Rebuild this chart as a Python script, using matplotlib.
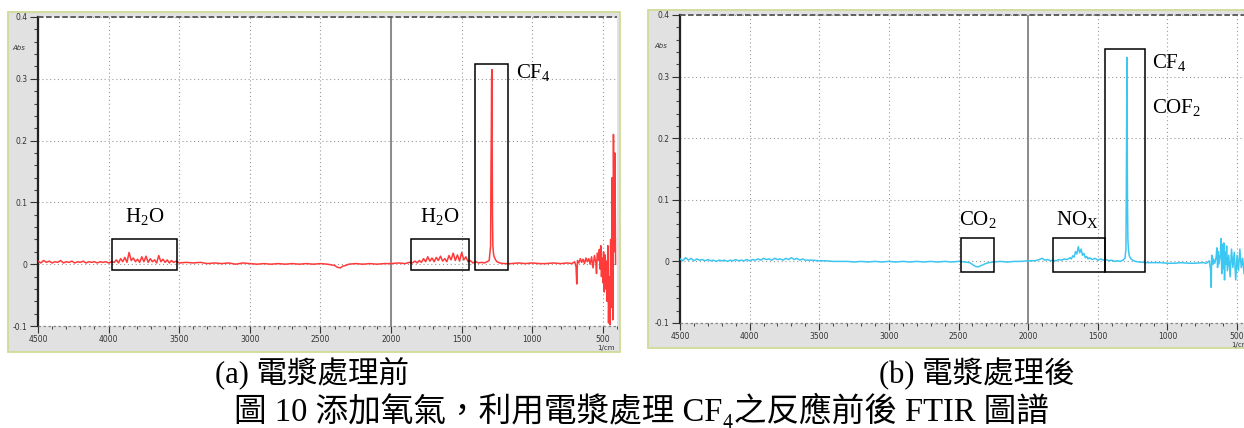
import matplotlib
matplotlib.use("Agg")
import matplotlib.pyplot as plt
from matplotlib.patches import Rectangle
from matplotlib.ticker import MultipleLocator

plt.rcParams['mathtext.fontset'] = 'custom'
plt.rcParams['mathtext.rm'] = 'Liberation Serif'
plt.rcParams['mathtext.it'] = 'Liberation Serif:italic'
plt.rcParams['mathtext.default'] = 'regular'

# ---------------- spectrum (a) : before plasma treatment ----------------
wn_a = [4500, 4480, 4460, 4440, 4420, 4400, 4380, 4360, 4340, 4320, 4300, 4280, 4260, 4240,
        4220, 4200, 4180, 4160, 4140, 4120, 4100, 4080, 4060, 4040, 4020, 4000, 3980,
        3960, 3945, 3930, 3915, 3900, 3885, 3870, 3855, 3840, 3825, 3810, 3795, 3780, 3765,
        3750, 3735, 3720, 3705, 3690, 3675, 3660, 3645, 3630, 3615, 3600, 3585, 3570, 3555,
        3540, 3520, 3500, 3450, 3400, 3350, 3300, 3250, 3200, 3150, 3100, 3050, 3000, 2950,
        2900, 2850, 2800, 2750, 2700, 2650, 2600, 2550, 2500, 2450, 2400, 2380, 2360, 2340,
        2320, 2300, 2250, 2200, 2150, 2100, 2050, 2000, 1950, 1900, 1870, 1850, 1830, 1815,
        1800, 1785, 1770, 1755, 1740, 1725, 1710, 1695, 1680, 1665, 1650, 1635, 1620, 1605,
        1590, 1575, 1560, 1545, 1530, 1515, 1500, 1485, 1470, 1455, 1440, 1420, 1400, 1380,
        1360, 1340, 1320, 1305, 1295, 1292, 1290, 1288, 1286, 1284, 1282, 1279, 1275, 1270,
        1260, 1250, 1230, 1200, 1150, 1100, 1050, 1000, 950, 900, 850, 800, 750, 720,
        700, 690, 685, 680, 670, 660, 650, 640, 630, 620, 610, 600, 590, 580, 570, 560,
        550, 545, 540, 530, 525, 520, 515, 510, 505, 500, 495, 490, 485, 480, 475, 470,
        465, 460, 455, 450, 445, 440, 435, 430, 425, 420, 415, 410]
abs_a = [0.005, 0.002, 0.006, 0.003, 0.005, 0.002, 0.004, 0.003, 0.006, 0.002, 0.004, 0.003, 0.005, 0.002,
         0.004, 0.003, 0.005, 0.002, 0.004, 0.003, 0.004, 0.002, 0.004, 0.003, 0.004, 0.002, 0.004,
         0.003, 0.007, 0.002, 0.009, 0.004, 0.011, 0.003, 0.019, 0.006, 0.010, 0.004, 0.008, 0.003, 0.012,
         0.004, 0.013, 0.003, 0.009, 0.004, 0.007, 0.002, 0.014, 0.004, 0.008, 0.003, 0.007, 0.002, 0.006,
         0.003, 0.005, 0.002, 0.003, 0.002, 0.003, 0.001, 0.002, 0.001, 0.002, 0.000, 0.002, 0.001, 0.000,
         0.001, 0.000, 0.001, 0.000, 0.001, 0.000, 0.001, 0.000, 0.001, 0.000, -0.002, -0.005, -0.006, -0.003,
         -0.002, 0.000, 0.001, 0.000, 0.001, 0.000, 0.001, 0.001, 0.002, 0.001, 0.003, 0.002, 0.005, 0.002,
         0.006, 0.003, 0.009, 0.004, 0.012, 0.005, 0.010, 0.004, 0.011, 0.006, 0.013, 0.005, 0.009, 0.004,
         0.014, 0.007, 0.018, 0.006, 0.015, 0.005, 0.019, 0.007, 0.012, 0.004, 0.006, 0.002, 0.004, 0.002,
         0.003, 0.002, 0.004, 0.006, 0.030, 0.160, 0.210, 0.300, 0.315, 0.200, 0.080, 0.030, 0.018, 0.012,
         0.007, 0.004, 0.002, 0.001, 0.001, 0.002, 0.001, 0.002, 0.001, 0.001, 0.002, 0.001, 0.002, 0.001,
         0.004, -0.004, -0.032, 0.006, 0.002, 0.009, 0.003, 0.008, 0.001, 0.010, 0.004, 0.009, 0.000, 0.012, -0.006, 0.014,
         0.003, -0.015, 0.018, 0.006, 0.024, -0.008, 0.030, -0.020, 0.010, -0.030, 0.020, -0.045, 0.015, -0.040, 0.005, -0.060,
         0.030, -0.095, -0.020, -0.098, 0.040, -0.070, 0.140, -0.090, 0.210, 0.020, 0.180, 0.000]

# ---------------- spectrum (b) : after plasma treatment ----------------
wn_b = [4500, 4480, 4460, 4440, 4420, 4400, 4380, 4360, 4340, 4320, 4300, 4280, 4260, 4240,
        4220, 4200, 4180, 4160, 4140, 4120, 4100, 4080, 4060, 4040, 4020, 4000, 3980, 3960,
        3940, 3920, 3900, 3880, 3860, 3840, 3820, 3800, 3780, 3760, 3740, 3720, 3700, 3680,
        3660, 3640, 3620, 3600, 3550, 3500, 3450, 3400, 3350, 3300, 3250, 3200, 3150, 3100,
        3050, 3000, 2950, 2900, 2850, 2800, 2750, 2700, 2650, 2600, 2550, 2500, 2450, 2420,
        2400, 2380, 2360, 2340, 2320, 2300, 2280, 2250, 2200, 2150, 2100, 2050, 2000, 1950,
        1920, 1900, 1880, 1860, 1840, 1820, 1800, 1780, 1760, 1740, 1720, 1700, 1690, 1680,
        1670, 1660, 1650, 1640, 1630, 1620, 1610, 1600, 1590, 1580, 1570, 1560, 1540, 1520,
        1500, 1480, 1460, 1440, 1420, 1400, 1380, 1360, 1340, 1320, 1305, 1298, 1295, 1293,
        1291, 1289, 1287, 1284, 1280, 1275, 1265, 1250, 1230, 1200, 1150, 1100, 1050, 1000,
        950, 900, 850, 800, 750, 720, 700, 695, 690, 686, 682, 675, 670, 660, 650, 645,
        640, 635, 630, 620, 615, 610, 605, 600, 595, 590, 585, 580, 575, 570, 560, 550,
        540, 530, 520, 510, 500, 490, 480, 470, 460, 450, 440, 420, 400]
abs_b = [0.004, 0.001, 0.006, 0.002, 0.005, 0.001, 0.004, 0.002, 0.003, 0.001, 0.003, 0.001, 0.002, 0.000,
         0.002, 0.001, 0.002, 0.000, 0.002, 0.001, 0.003, 0.001, 0.002, 0.001, 0.003, 0.001, 0.003, 0.002,
         0.004, 0.002, 0.005, 0.003, 0.004, 0.002, 0.005, 0.003, 0.004, 0.002, 0.005, 0.003, 0.006, 0.003,
         0.005, 0.002, 0.004, 0.002, 0.002, 0.001, 0.001, 0.000, 0.000, 0.000, -0.001, 0.000, -0.001, 0.000,
         -0.001, 0.000, -0.001, 0.000, -0.001, 0.000, -0.001, 0.000, -0.001, 0.000, -0.001, 0.000, -0.001, -0.002,
         -0.005, -0.008, -0.009, -0.007, -0.005, -0.003, -0.002, -0.001, 0.000, -0.001, 0.000, 0.000, 0.001, 0.001,
         0.003, 0.005, 0.002, 0.003, 0.001, 0.002, 0.001, 0.003, 0.002, 0.004, 0.003, 0.006, 0.004, 0.009,
         0.007, 0.016, 0.012, 0.024, 0.014, 0.020, 0.010, 0.013, 0.006, 0.008, 0.004, 0.006, 0.003, 0.005,
         0.002, 0.004, 0.002, 0.003, 0.001, 0.002, 0.000, 0.001, 0.000, 0.002, 0.005, 0.020, 0.120, 0.220,
         0.331, 0.220, 0.100, 0.035, 0.020, 0.010, 0.005, 0.002, 0.000, -0.001, -0.002, -0.002, -0.002, -0.003,
         -0.003, -0.002, -0.003, -0.003, -0.002, -0.003, 0.001, -0.006, -0.015, -0.042, 0.010, -0.005, 0.004, -0.003, 0.008, 0.022,
         -0.010, 0.016, -0.004, 0.012, 0.037, -0.020, 0.028, -0.012, 0.030, -0.030, 0.015, -0.005, 0.025, -0.015, 0.010, -0.025,
         0.020, -0.010, 0.015, -0.030, 0.010, -0.015, 0.020, -0.010, 0.005, -0.020, 0.010, -0.005, 0.000]

# annotation boxes: (wavenumber from, wavenumber to, abs low, abs high)
boxes_a = [(3976, 3516, -0.010, 0.0405), (1859, 1449, -0.010, 0.0405), (1406, 1173, -0.010, 0.3236)]
labels_a = [("H$_2$O", 3746, 0.077, 'center'), ("H$_2$O", 1654, 0.077, 'center'),
            ("CF$_4$", 1112, 0.311, 'left')]
boxes_b = [(2482, 2245, -0.018, 0.0373), (1821, 1448, -0.018, 0.0373), (1448, 1161, -0.018, 0.344)]
labels_b = [("CO$_2$", 2363, 0.068, 'center'), ("NO$_\\mathrm{X}$", 1650, 0.068, 'center'),
            ("CF$_4$", 1112, 0.323, 'left'), ("COF$_2$", 1112, 0.250, 'left')]

caption_a = "(a) 電漿處理前"
caption_b = "(b) 電漿處理後"
title = "圖 10 添加氧氣，利用電漿處理 CF₄之反應前後 FTIR 圖譜"

W, H = 1244, 428
fig = plt.figure(figsize=(W / 100, H / 100), dpi=100)
fig.patch.set_facecolor('white')


def fx(px):
    return px / W


def fy(py):
    return 1 - py / H


def draw_panel(panel, axrect, wn, ab, color, boxes, labels):
    # gray instrument window behind the plot
    x0, y0, x1, y1 = panel
    fig.add_artist(Rectangle((fx(x0), fy(y1)), fx(x1) - fx(x0), fy(y0) - fy(y1),
                             transform=fig.transFigure, facecolor='#e1e1e1',
                             edgecolor='#cfdc96', lw=1.3, zorder=-5))
    l, t, r, b = axrect
    ax = fig.add_axes([fx(l), fy(b), fx(r) - fx(l), fy(t) - fy(b)])
    ax.set_facecolor('white')
    ax.plot(wn, ab, color=color, lw=1.1, zorder=3)
    ax.set_xlim(4500, 400)
    ax.set_ylim(-0.1, 0.4)

    ax.xaxis.set_major_locator(MultipleLocator(500))
    ax.xaxis.set_minor_locator(MultipleLocator(100))
    ax.yaxis.set_major_locator(MultipleLocator(0.1))
    ax.yaxis.set_minor_locator(MultipleLocator(0.02))
    ax.set_yticks([-0.1, 0, 0.1, 0.2, 0.3, 0.4])
    ax.set_yticklabels(['-0.1', '0', '0.1', '0.2', '0.3', '0.4'])
    ax.tick_params(axis='both', which='major', labelsize=5.5, labelcolor='#333333',
                   color='#333333', direction='out', pad=1.5)
    ax.tick_params(axis='x', which='major', length=5, width=0.8)
    ax.tick_params(axis='x', which='minor', length=2.5, width=0.7, color='#444444')
    ax.tick_params(axis='y', which='major', length=6, width=0.8)
    ax.tick_params(axis='y', which='minor', length=3, width=0.8, color='#444444')

    for s in ['top', 'right', 'bottom']:
        ax.spines[s].set_visible(False)
    ax.spines['left'].set_color('#222222')
    ax.spines['left'].set_linewidth(1.6)

    ax.grid(True, which='major', color='#9a9a9a', lw=0.8, ls=(0, (1, 2.5)))
    ax.axhline(0.4, color='#555555', lw=1.3, ls=(0, (3, 1.5)), clip_on=False, zorder=4)
    ax.axhline(-0.1, color='#888888', lw=0.9, ls=(0, (2, 2)), clip_on=False, zorder=4)
    ax.axvline(2000, color='#8a8a8a', lw=1.4, zorder=2)

    for w0, w1, a0, a1 in boxes:
        ax.add_patch(Rectangle((w0, a0), w1 - w0, a1 - a0, fill=False,
                               edgecolor='black', lw=1.1, zorder=5))
    for txt, xw, ya, ha in labels:
        ax.text(xw, ya, txt, ha=ha, va='center', fontsize=15,
                family='Liberation Serif', color='black', zorder=6)

    ax.annotate('Abs', xy=(0, 0.9), xycoords='axes fraction', xytext=(-14, 0),
                textcoords='offset points', ha='center', va='center',
                fontsize=5, color='#333333', style='italic')
    ax.annotate('1/cm', xy=(500, 0), xycoords=('data', 'axes fraction'), xytext=(2, -15.5),
                textcoords='offset points', ha='center', va='center',
                fontsize=5, color='#333333')
    return ax


draw_panel((8, 12, 620, 352), (38, 17, 617, 326), wn_a, abs_a, '#ff3a3a', boxes_a, labels_a)
draw_panel((648, 10, 1250, 348), (680, 15, 1251, 323), wn_b, abs_b, '#3cc6f2', boxes_b, labels_b)

cjk = ['Liberation Serif', 'Noto Sans CJK TC', 'DejaVu Serif']
fig.text(fx(312), fy(374), caption_a, ha='center', va='center', fontsize=22, family=cjk)
fig.text(fx(977), fy(374), caption_b, ha='center', va='center', fontsize=22, family=cjk)
fig.text(fx(641), fy(410), title, ha='center', va='center', fontsize=23.5, family=cjk)

fig.savefig('out.png', dpi=100)
